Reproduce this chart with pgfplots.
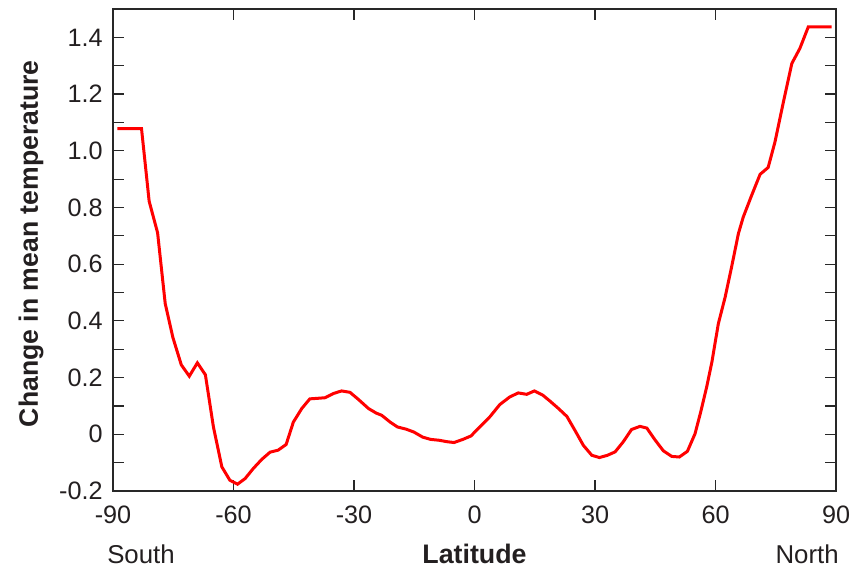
\documentclass[border=0pt]{standalone}
\usepackage{pgfplots}
\pgfplotsset{compat=1.18}
\usepackage{fontspec}
\setmainfont{Liberation Sans}
\definecolor{txt}{RGB}{35,31,32}
\definecolor{axc}{RGB}{40,40,40}
\begin{document}
\fontsize{12.5}{15}\selectfont
\begin{tikzpicture}
\useasboundingbox (-56.5pt,-39pt) rectangle (376pt,245.5pt);
\begin{axis}[
  width=361.5pt, height=241pt, scale only axis,
  xmin=-90, xmax=90, ymin=-0.2, ymax=1.5,
  axis line style={axc, line width=0.8pt},
  tick style={axc, line width=0.6pt},
  tick align=inside,
  major tick length=5.5pt, minor tick length=5.5pt,
  xtick={-90,-60,-30,0,30,60,90},
  xticklabels={-90,-60,-30,0,30,60,90},
  ytick={-0.2,0,0.2,0.4,0.6,0.8,1.0,1.2,1.4},
  yticklabels={-0.2,0,0.2,0.4,0.6,0.8,1.0,1.2,1.4},
  minor ytick={-0.1,0.1,0.3,0.5,0.7,0.9,1.1,1.3,1.5},
  ticklabel style={font=\fontsize{12.6}{15}\selectfont, text=txt},
  xticklabel style={yshift=-3.3pt},
  yticklabel style={xshift=-0.8pt},
  ylabel={\bfseries Change in mean temperature},
  ylabel style={at={(axis description cs:-0.1134,0.513)}, anchor=center, font=\fontsize{13.3}{16}\selectfont, text=txt},
  clip=false,
]
\addplot[red, line width=1.5pt] coordinates {
(-88.9,1.078) (-82.9,1.078) (-81.0,0.822) (-78.9,0.711) (-77.0,0.461)
(-75.1,0.342) (-73.0,0.245) (-71.0,0.205) (-69.0,0.252) (-67.0,0.210)
(-65.0,0.026) (-62.9,-0.115) (-60.9,-0.162) (-59.0,-0.176) (-57.1,-0.156)
(-55.1,-0.121) (-53.0,-0.089) (-50.9,-0.063) (-48.9,-0.056) (-46.9,-0.036)
(-45.1,0.043) (-43.0,0.091) (-41.0,0.125) (-39.0,0.127) (-37.2,0.129)
(-35.1,0.144) (-33.1,0.153) (-31.0,0.148) (-28.9,0.123) (-26.4,0.091)
(-24.5,0.075) (-23.1,0.067) (-21.0,0.043) (-19.2,0.026) (-17.0,0.018)
(-15.1,0.008) (-12.9,-0.010) (-10.9,-0.018) (-8.8,-0.021) (-6.9,-0.026)
(-5.1,-0.029) (-2.9,-0.018) (-0.9,-0.006) (1.4,0.027) (3.9,0.063)
(6.3,0.105) (8.8,0.132) (10.9,0.146) (13.0,0.141) (14.9,0.153)
(17.0,0.138) (18.8,0.117) (20.9,0.091) (23.0,0.063) (25.0,0.014)
(27.1,-0.039) (29.2,-0.074) (31.1,-0.082) (33.1,-0.074) (35.0,-0.062)
(37.0,-0.027) (39.1,0.017) (41.2,0.028) (42.9,0.022) (44.9,-0.019)
(47.0,-0.058) (49.1,-0.078) (51.0,-0.080) (53.0,-0.060) (54.9,0.002)
(56.3,0.078) (57.8,0.167) (59.1,0.255) (60.7,0.390) (62.4,0.484)
(64.0,0.590) (65.7,0.708) (66.9,0.766) (69.0,0.843) (71.1,0.917)
(73.1,0.941) (74.8,1.031) (76.9,1.172) (79.0,1.308) (81.0,1.361)
(83.1,1.437) (88.9,1.437)
};
\node[text=txt, anchor=center, font=\fontsize{13.4}{16}\selectfont] at (axis description cs:0.5,-0.1307) {\bfseries Latitude};
\node[text=txt, anchor=center, font=\fontsize{12.9}{15}\selectfont] at (axis description cs:0.0387,-0.1307) {South};
\node[text=txt, anchor=center, font=\fontsize{12.9}{15}\selectfont] at (axis description cs:0.96,-0.1307) {North};
\end{axis}
\end{tikzpicture}
\end{document}
